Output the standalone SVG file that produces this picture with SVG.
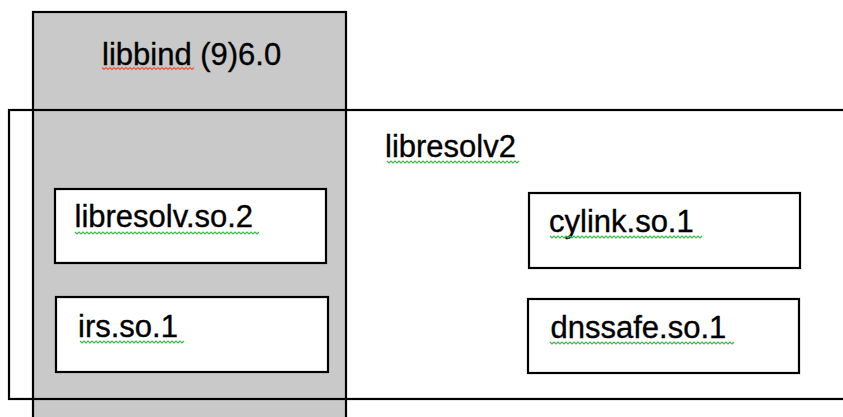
<svg xmlns="http://www.w3.org/2000/svg" width="843" height="417" viewBox="0 0 843 417">
  <style>
    .frame { stroke: #000; stroke-width: 2.2; }
    .box { fill: #fff; stroke: #000; stroke-width: 2.2; }
    .label { font-family: "Liberation Sans", Arial, Helvetica, sans-serif; font-size: 31px; fill: #000; stroke: #000; stroke-width: 0.35; }
    .squig-green { fill: none; stroke: #3cb84a; stroke-width: 1.2; }
    .squig-red { fill: none; stroke: #f0553a; stroke-width: 1.2; }
  </style>
  <rect width="843" height="417" fill="#fff"/>

  <!-- libbind package (grey column) -->
  <g id="libbind">
    <rect class="frame" x="33" y="12" width="313" height="420" fill="#c9c9c9"/>
    <text class="label" x="102" y="65">libbind (9)6.0</text>
    <!-- 23 waves -->
    <path class="squig-red" d="M102,67.5 l
      2,2 2,-2 2,2 2,-2 2,2 2,-2 2,2 2,-2 2,2 2,-2
      2,2 2,-2 2,2 2,-2 2,2 2,-2 2,2 2,-2 2,2 2,-2
      2,2 2,-2 2,2 2,-2 2,2 2,-2 2,2 2,-2 2,2 2,-2
      2,2 2,-2 2,2 2,-2 2,2 2,-2 2,2 2,-2 2,2 2,-2
      2,2 2,-2 2,2 2,-2 2,2 2,-2"/>
  </g>

  <!-- libresolv2 package (open on the right) -->
  <g id="libresolv2">
    <rect class="frame" x="9" y="110" width="850" height="289" fill="none"/>
    <text class="label" x="385" y="156.5">libresolv2</text>
    <!-- 33 waves -->
    <path class="squig-green" d="M387,161 l
      2,2 2,-2 2,2 2,-2 2,2 2,-2 2,2 2,-2 2,2 2,-2
      2,2 2,-2 2,2 2,-2 2,2 2,-2 2,2 2,-2 2,2 2,-2
      2,2 2,-2 2,2 2,-2 2,2 2,-2 2,2 2,-2 2,2 2,-2
      2,2 2,-2 2,2 2,-2 2,2 2,-2 2,2 2,-2 2,2 2,-2
      2,2 2,-2 2,2 2,-2 2,2 2,-2 2,2 2,-2 2,2 2,-2
      2,2 2,-2 2,2 2,-2 2,2 2,-2 2,2 2,-2 2,2 2,-2
      2,2 2,-2 2,2 2,-2 2,2 2,-2"/>
  </g>

  <g id="libresolv-so-2">
    <rect class="box" x="55" y="189" width="271" height="74"/>
    <text class="label" x="74.5" y="226.5">libresolv.so.2</text>
    <!-- 46 waves -->
    <path class="squig-green" d="M75,232 l
      2,2 2,-2 2,2 2,-2 2,2 2,-2 2,2 2,-2 2,2 2,-2
      2,2 2,-2 2,2 2,-2 2,2 2,-2 2,2 2,-2 2,2 2,-2
      2,2 2,-2 2,2 2,-2 2,2 2,-2 2,2 2,-2 2,2 2,-2
      2,2 2,-2 2,2 2,-2 2,2 2,-2 2,2 2,-2 2,2 2,-2
      2,2 2,-2 2,2 2,-2 2,2 2,-2 2,2 2,-2 2,2 2,-2
      2,2 2,-2 2,2 2,-2 2,2 2,-2 2,2 2,-2 2,2 2,-2
      2,2 2,-2 2,2 2,-2 2,2 2,-2 2,2 2,-2 2,2 2,-2
      2,2 2,-2 2,2 2,-2 2,2 2,-2 2,2 2,-2 2,2 2,-2
      2,2 2,-2 2,2 2,-2 2,2 2,-2 2,2 2,-2 2,2 2,-2
      2,2 2,-2"/>
  </g>

  <g id="irs-so-1">
    <rect class="box" x="56" y="297" width="272" height="75"/>
    <text class="label" x="78" y="336.5">irs.so.1</text>
    <!-- 26 waves -->
    <path class="squig-green" d="M80,341 l
      2,2 2,-2 2,2 2,-2 2,2 2,-2 2,2 2,-2 2,2 2,-2
      2,2 2,-2 2,2 2,-2 2,2 2,-2 2,2 2,-2 2,2 2,-2
      2,2 2,-2 2,2 2,-2 2,2 2,-2 2,2 2,-2 2,2 2,-2
      2,2 2,-2 2,2 2,-2 2,2 2,-2 2,2 2,-2 2,2 2,-2
      2,2 2,-2 2,2 2,-2 2,2 2,-2 2,2 2,-2 2,2 2,-2
      2,2 2,-2"/>
  </g>

  <g id="cylink-so-1">
    <rect class="box" x="529" y="193" width="271" height="75"/>
    <text class="label" x="549" y="231.5">cylink.so.1</text>
    <!-- 38 waves -->
    <path class="squig-green" d="M550,236 l
      2,2 2,-2 2,2 2,-2 2,2 2,-2 2,2 2,-2 2,2 2,-2
      2,2 2,-2 2,2 2,-2 2,2 2,-2 2,2 2,-2 2,2 2,-2
      2,2 2,-2 2,2 2,-2 2,2 2,-2 2,2 2,-2 2,2 2,-2
      2,2 2,-2 2,2 2,-2 2,2 2,-2 2,2 2,-2 2,2 2,-2
      2,2 2,-2 2,2 2,-2 2,2 2,-2 2,2 2,-2 2,2 2,-2
      2,2 2,-2 2,2 2,-2 2,2 2,-2 2,2 2,-2 2,2 2,-2
      2,2 2,-2 2,2 2,-2 2,2 2,-2 2,2 2,-2 2,2 2,-2
      2,2 2,-2 2,2 2,-2 2,2 2,-2"/>
  </g>

  <g id="dnssafe-so-1">
    <rect class="box" x="528" y="299" width="271" height="74"/>
    <text class="label" x="550.5" y="338">dnssafe.so.1</text>
    <!-- 46 waves -->
    <path class="squig-green" d="M550,342 l
      2,2 2,-2 2,2 2,-2 2,2 2,-2 2,2 2,-2 2,2 2,-2
      2,2 2,-2 2,2 2,-2 2,2 2,-2 2,2 2,-2 2,2 2,-2
      2,2 2,-2 2,2 2,-2 2,2 2,-2 2,2 2,-2 2,2 2,-2
      2,2 2,-2 2,2 2,-2 2,2 2,-2 2,2 2,-2 2,2 2,-2
      2,2 2,-2 2,2 2,-2 2,2 2,-2 2,2 2,-2 2,2 2,-2
      2,2 2,-2 2,2 2,-2 2,2 2,-2 2,2 2,-2 2,2 2,-2
      2,2 2,-2 2,2 2,-2 2,2 2,-2 2,2 2,-2 2,2 2,-2
      2,2 2,-2 2,2 2,-2 2,2 2,-2 2,2 2,-2 2,2 2,-2
      2,2 2,-2 2,2 2,-2 2,2 2,-2 2,2 2,-2 2,2 2,-2
      2,2 2,-2"/>
  </g>
</svg>
